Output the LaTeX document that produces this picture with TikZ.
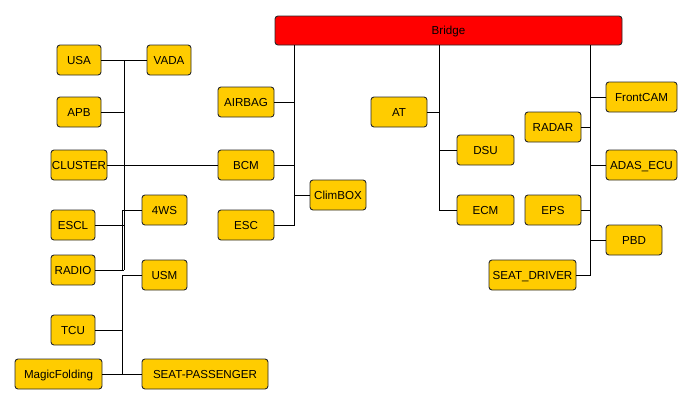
\documentclass[tikz,border=0pt]{standalone}
\usepackage{fontspec}
\setmainfont{Liberation Sans}
\definecolor{boxyellow}{RGB}{255,204,0}
\definecolor{boxred}{RGB}{255,0,0}
\definecolor{boxedge}{RGB}{40,40,40}
\begin{document}
\begin{tikzpicture}[x=1pt,y=-1pt,
  ecu/.style={draw=boxedge, line width=0.9pt, fill=boxyellow, rounded corners=3pt,
    minimum height=30pt, inner sep=0pt, outer sep=0pt, text height=8.3pt, text depth=0pt,
    font=\fontsize{11.6}{13}\selectfont},
  bridgebox/.style={ecu, fill=boxred, minimum height=29pt},
  wire/.style={draw=black, line width=0.9pt}]
\useasboundingbox (0,0) rectangle (692,405);
% nodes
\node[bridgebox, minimum width=347pt] (Bridge) at (448.5,30.5) {Bridge};
\node[ecu, minimum width=44pt] (USA) at (79,60) {USA};
\node[ecu, minimum width=44pt] (VADA) at (169,60) {VADA};
\node[ecu, minimum width=44pt] (APB) at (79,112) {APB};
\node[ecu, minimum width=56pt] (CLUSTER) at (79,165) {CLUSTER};
\node[ecu, minimum width=56pt] (AIRBAG) at (246,102) {AIRBAG};
\node[ecu, minimum width=56pt] (BCM) at (246,165) {BCM};
\node[ecu, minimum width=45pt] (FWS) at (164.5,210) {4WS};
\node[ecu, minimum width=44pt] (ESCL) at (73,225) {ESCL};
\node[ecu, minimum width=56pt] (ESC) at (246,225) {ESC};
\node[ecu, minimum width=44pt] (RADIO) at (73,270) {RADIO};
\node[ecu, minimum width=45pt] (USM) at (164.5,275) {USM};
\node[ecu, minimum width=44pt] (TCU) at (73,330) {TCU};
\node[ecu, minimum width=87pt] (MF) at (58.5,374) {MagicFolding};
\node[ecu, minimum width=126pt] (SP) at (205,374) {SEAT-PASSENGER};
\node[ecu, minimum width=56pt] (CLIM) at (338,195) {ClimBOX};
\node[ecu, minimum width=56pt] (AT) at (399,112) {AT};
\node[ecu, minimum width=57pt] (DSU) at (485.5,150) {DSU};
\node[ecu, minimum width=57pt] (ECM) at (485.5,210) {ECM};
\node[ecu, minimum width=56pt] (RADAR) at (553,127) {RADAR};
\node[ecu, minimum width=56pt] (EPS) at (553,210) {EPS};
\node[ecu, minimum width=87pt] (SD) at (532.5,275) {SEAT\_DRIVER};
\node[ecu, minimum width=71pt] (FCAM) at (641.5,97) {FrontCAM};
\node[ecu, minimum width=71pt] (ADAS) at (641.5,165) {ADAS\_ECU};
\node[ecu, minimum width=56pt] (PBD) at (634,240) {PBD};
% bus coordinates
\coordinate (bA) at (124,0);
\coordinate (bB) at (122.5,0);
\coordinate (bM) at (294,0);
\coordinate (bT) at (439,0);
\coordinate (bR) at (590,0);
% left cluster
\draw[wire] (USA.east) -- (VADA.west);
\draw[wire] (USA.east -| bA) -- (RADIO.east -| bA);
\draw[wire] (APB.east) -- (APB.east -| bA);
\draw[wire] (CLUSTER.east) -- (BCM.west);
\draw[wire] (ESCL.east) -- (ESCL.east -| bA);
\draw[wire] (RADIO.east) -- (RADIO.east -| bA);
\draw[wire] (FWS.west) -- (FWS.west -| bB) -- (RADIO.east -| bB);
\draw[wire] (USM.west) -- (USM.west -| bB) -- (SP.west -| bB);
\draw[wire] (TCU.east) -- (TCU.east -| bB);
\draw[wire] (MF.east) -- (SP.west);
% middle bus
\draw[wire] (Bridge.south -| bM) -- (ESC.east -| bM) -- (ESC.east);
\draw[wire] (AIRBAG.east) -- (AIRBAG.east -| bM);
\draw[wire] (BCM.east) -- (BCM.east -| bM);
\draw[wire] (CLIM.west) -- (CLIM.west -| bM);
% AT bus
\draw[wire] (Bridge.south -| bT) -- (ECM.west -| bT) -- (ECM.west);
\draw[wire] (AT.east) -- (AT.east -| bT);
\draw[wire] (DSU.west) -- (DSU.west -| bT);
% right bus
\draw[wire] (Bridge.south -| bR) -- (SD.east -| bR) -- (SD.east);
\draw[wire] (FCAM.west) -- (FCAM.west -| bR);
\draw[wire] (RADAR.east) -- (RADAR.east -| bR);
\draw[wire] (ADAS.west) -- (ADAS.west -| bR);
\draw[wire] (EPS.east) -- (EPS.east -| bR);
\draw[wire] (PBD.west) -- (PBD.west -| bR);
\end{tikzpicture}
\end{document}
